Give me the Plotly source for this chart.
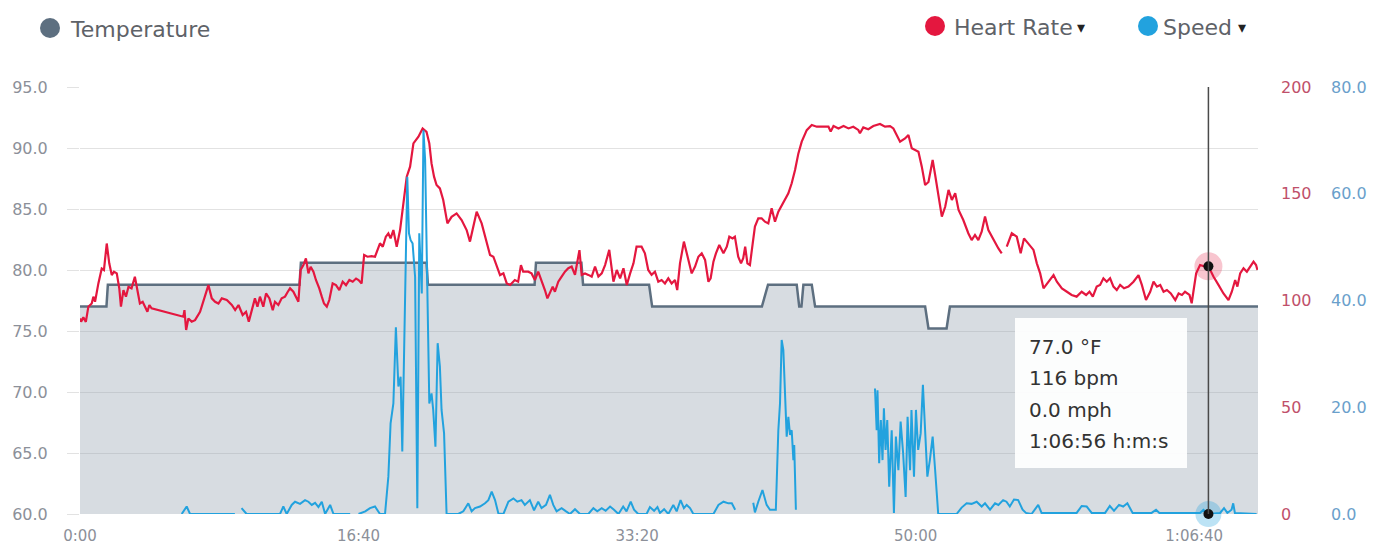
import plotly.graph_objects as go

# ---------------- data ----------------
tick_seconds = [0, 1000, 2000, 3000, 4000]
tick_labels = ["0:00", "16:40", "33:20", "50:00", "1:06:40"]
x_end = 4229

temp_t = [0, 95, 100, 788, 793, 1244, 1249, 1632, 1637, 1800, 1806, 2043, 2054, 2448, 2470,
          2573, 2582, 2590, 2597, 2627, 2639, 3034, 3046, 3111, 3123, 4229]
temp_v = [77.0, 77.0, 78.8, 78.8, 80.6, 80.6, 78.8, 78.8, 80.6, 80.6, 78.8, 78.8, 77.0, 77.0, 78.8,
          78.8, 77.0, 77.0, 78.8, 78.8, 77.0, 77.0, 75.2, 75.2, 77.0, 77.0]

hr1_t = [0, 4, 12, 21, 30, 42, 48, 54, 66, 78, 86, 96, 105, 114, 122, 132, 141, 147, 156, 165,
         174, 185, 197, 206, 215, 225, 233, 242, 249, 257, 371, 375, 381, 389, 401, 413, 431, 445, 461, 473,
         485, 497, 509, 527, 545, 557, 569, 584, 596, 606, 616, 628, 637, 646, 658, 668, 680, 692, 700, 712,
         724, 736, 746, 754, 766, 776, 784, 792, 802, 811, 820, 828, 838, 847, 859, 868, 876, 886, 895, 907,
         919, 931, 943, 955, 967, 979, 991, 1000, 1011, 1020, 1032, 1047, 1059, 1077, 1087, 1098, 1107, 1115, 1125, 1137,
         1149, 1161, 1173, 1185, 1197, 1215, 1230, 1244, 1254, 1262, 1271, 1280, 1292, 1304, 1319, 1334, 1352, 1370, 1388, 1400,
         1424, 1442, 1460, 1472, 1484, 1496, 1508, 1520, 1532, 1544, 1561, 1573, 1583, 1591, 1609, 1621, 1633, 1645, 1657, 1669,
         1678, 1687, 1697, 1705, 1717, 1729, 1741, 1753, 1765, 1777, 1793, 1801, 1813, 1825, 1837, 1849, 1861, 1873, 1885, 1900,
         1915, 1927, 1939, 1951, 1963, 1975, 1987, 1998, 2016, 2028, 2040, 2052, 2064, 2076, 2088, 2100, 2112, 2124, 2136, 2144,
         2154, 2168, 2184, 2196, 2208, 2220, 2232, 2244, 2256, 2264, 2274, 2283, 2295, 2310, 2322, 2331, 2343, 2351, 2363, 2373,
         2381, 2388, 2396, 2405, 2415, 2423, 2435, 2447, 2459, 2471, 2483, 2495, 2507, 2519, 2531, 2543, 2555, 2567, 2579, 2591,
         2609, 2627, 2645, 2669, 2687, 2695, 2705, 2723, 2741, 2759, 2776, 2794, 2800, 2812, 2830, 2848, 2872, 2890, 2908, 2920,
         2932, 2944, 2962, 2974, 2986, 2998, 3010, 3022, 3034, 3046, 3061, 3070, 3078, 3094, 3106, 3118, 3130, 3142, 3154, 3171,
         3189, 3201, 3213, 3225, 3237, 3249, 3261, 3273, 3285, 3297, 3309]
hr1_v = [91.6, 90.1, 92.1, 90.0, 97.1, 98.6, 101.8, 99.4, 108.0, 115.0, 114.3, 126.7, 117.4, 111.9, 113.5, 112.7, 105.7, 97.1, 104.9, 101.8,
         106.4, 105.7, 111.1, 104.9, 98.6, 99.4, 97.1, 94.7, 97.9, 96.3, 92.4, 95.5, 86.2, 91.6, 90.1, 90.8, 94.7, 100.2, 107.2, 101.0,
         99.4, 98.6, 101.0, 100.2, 97.9, 95.5, 97.9, 93.2, 94.7, 90.1, 95.5, 101.0, 97.1, 101.8, 97.1, 103.3, 101.0, 95.5, 99.4, 97.9,
         101.0, 101.8, 104.1, 105.7, 104.1, 101.8, 99.4, 114.3, 116.6, 119.7, 112.7, 115.8, 113.5, 109.6, 105.7, 101.8, 98.6, 97.1, 100.2, 108.0,
         107.2, 104.9, 108.8, 107.2, 109.6, 108.8, 110.3, 109.6, 108.0, 121.3, 120.5, 120.8, 120.5, 126.8, 125.2, 129.9, 131.4, 129.1, 133.0, 125.2,
         133.0, 145.5, 158.0, 162.7, 173.6, 176.7, 180.6, 179.0, 173.6, 164.2, 158.0, 154.1, 152.5, 147.1, 136.1, 139.2, 140.8, 137.7, 133.0, 127.6,
         141.6, 136.1, 126.8, 121.3, 120.5, 115.8, 111.9, 112.7, 108.0, 107.3, 109.6, 108.8, 116.6, 113.5, 113.5, 112.7, 109.6, 113.5, 109.6, 104.9,
         101.0, 103.4, 106.5, 104.1, 108.8, 111.2, 113.5, 115.1, 115.9, 112.0, 123.6, 112.0, 112.7, 112.0, 111.2, 115.9, 111.2, 112.7, 116.6, 123.7,
         108.8, 114.3, 110.4, 115.1, 107.3, 112.7, 117.4, 125.2, 125.2, 122.1, 114.3, 112.0, 113.5, 108.8, 109.6, 108.0, 110.4, 108.0, 109.6, 104.9,
         117.4, 127.6, 119.8, 112.7, 115.9, 120.5, 122.1, 119.0, 108.8, 110.4, 118.2, 122.1, 126.0, 122.1, 125.2, 129.9, 129.1, 129.9, 120.5, 117.4,
         119.8, 125.2, 117.4, 116.6, 126.8, 134.6, 138.5, 138.5, 136.9, 136.1, 143.2, 136.9, 141.6, 144.7, 147.1, 150.2, 154.9, 161.1, 168.9, 174.4,
         179.8, 182.2, 181.4, 181.4, 181.4, 179.1, 181.7, 180.6, 181.7, 180.6, 181.4, 179.9, 178.3, 181.1, 180.2, 181.7, 182.7, 181.4, 181.7, 180.6,
         177.5, 174.4, 175.9, 177.5, 171.3, 170.5, 169.7, 162.7, 154.1, 155.5, 165.8, 158.8, 152.0, 139.3, 143.9, 151.8, 147.1, 150.2, 142.4, 137.7,
         131.5, 128.3, 130.7, 128.3, 132.2, 139.3, 133.0, 129.9, 126.8, 124.4, 122.1]

hr2_t = [3327, 3345, 3363, 3377, 3389, 3405, 3423, 3435, 3447, 3459, 3477, 3495, 3507, 3525, 3543, 3560, 3578, 3596, 3612, 3624,
         3636, 3650, 3662, 3674, 3686, 3698, 3710, 3722, 3734, 3748, 3764, 3782, 3800, 3812, 3827, 3842, 3854, 3866, 3878, 3890,
         3902, 3916, 3932, 3944, 3956, 3967, 3983, 3991, 3997, 4007, 4021, 4039, 4051, 4069, 4087, 4105, 4123, 4135, 4147, 4155,
         4165, 4177, 4189, 4201, 4213, 4222, 4227]
hr2_v = [125.2, 131.5, 129.9, 122.1, 129.1, 126.8, 123.7, 117.4, 112.7, 105.7, 108.8, 111.9, 108.8, 105.7, 104.1, 102.6, 101.8, 104.1, 102.6, 104.1,
         101.8, 106.5, 107.3, 110.4, 108.8, 110.4, 106.5, 104.9, 107.3, 105.7, 106.5, 108.8, 111.9, 107.3, 100.2, 104.1, 108.8, 106.5, 107.3, 104.1,
         104.9, 103.3, 100.2, 103.3, 102.6, 104.1, 102.6, 98.7, 104.1, 112.7, 116.6, 115.9, 116.0, 111.2, 107.3, 103.3, 100.2, 104.1, 109.6, 106.5,
         112.7, 115.1, 113.5, 115.9, 118.2, 116.6, 114.3]

sp1_t = [365, 383, 395, 556]
sp1_v = [0, 1.4, 0, 0]
sp2_t = [580, 589, 598, 718, 730, 742, 760, 772, 790, 808, 820, 832, 844, 856, 868, 880, 898, 910, 970]
sp2_v = [1.1, 0.6, 0, 0, 1.4, 0, 1.7, 2.3, 1.9, 2.6, 2.3, 1.7, 2.1, 1.3, 2.3, 0, 1.7, 0, 0]
sp3_t = [1000, 1024, 1041, 1059, 1077, 1095, 1107, 1115, 1125, 1134, 1143, 1151, 1157, 1163, 1169, 1175, 1181, 1187, 1194, 1203,
         1211, 1218, 1227, 1233, 1239, 1245, 1254, 1262, 1268, 1276, 1284, 1292, 1298, 1307, 1316, 1358, 1376, 1394, 1406, 1418,
         1436, 1454, 1466, 1478, 1490, 1502, 1520, 1538, 1556, 1570, 1585, 1597, 1615, 1630, 1645, 1657, 1673, 1687, 1699, 1711,
         1729, 1745, 1759, 1777, 1795, 1825, 1843, 1857, 1873, 1887, 1903, 1917, 1933, 1950, 1962, 1977, 1989, 2004, 2034, 2046,
         2061, 2073, 2082, 2097, 2112, 2130, 2142, 2156, 2168, 2178, 2190, 2202, 2274, 2292, 2310, 2328, 2340, 2352]
sp3_v = [0, 0.5, 1.1, 1.4, 0, 0, 7, 17, 20.7, 35, 23.9, 25.7, 11.7, 28.8, 43.8, 63.2, 52.6, 51.3, 50.7, 44.4,
         1.1, 52.6, 41.3, 71.9, 66.3, 45.7, 20.7, 22.6, 19.5, 12.6, 32, 27.6, 19.5, 15.1, 0, 0, 0.5, 2, 0.5, 1.1,
         1.4, 2, 2.6, 4.2, 2.6, 0.1, 0, 2.3, 2.9, 2.3, 2.6, 1.7, 2.6, 0.7, 2.3, 1.1, 1.7, 3.6, 1.7, 0.5,
         1.1, 0.5, 0, 0.9, 0, 0, 1.1, 0.5, 1.1, 0.6, 1.4, 0.8, 0, 1.4, 0.5, 2.3, 0.8, 0, 0, 1.3,
         0.6, 1.3, 0.2, 0.9, 0, 1.7, 0.5, 2.6, 1.1, 1.7, 1.1, 0, 0, 1.7, 2.3, 2, 2, 0.8]
sp4_t = [2417, 2423, 2435, 2450, 2465, 2477, 2498, 2507, 2513, 2519, 2525, 2531, 2537, 2543, 2549, 2555, 2561, 2564, 2570]
sp4_v = [2.1, 0.3, 2.3, 4.5, 1.7, 0.8, 0.8, 15.7, 20.7, 32.6, 30.7, 20.7, 14.5, 18.2, 14.8, 15.7, 10.1, 12.9, 0.8]
sp5_t = [2854, 2860, 2863, 2869, 2875, 2881, 2886, 2892, 2898, 2905, 2914, 2922, 2929, 2938, 2946, 2955, 2964, 2971, 2980, 2985,
         2994, 3001, 3009, 3018, 3026, 3033, 3042, 3051, 3061, 3069, 3081, 3147, 3165, 3183, 3201, 3219, 3237, 3249, 3267, 3285,
         3297, 3314, 3326, 3338, 3353, 3368, 3384, 3396, 3416, 3440, 3452, 3578, 3596, 3614, 3632, 3680, 3697, 3712, 3730, 3745,
         3760, 3779, 3847, 3863, 3875, 4021, 4033, 4051, 4093, 4107, 4119, 4134, 4140, 4146, 4224]
sp5_v = [23.5, 15.7, 23.2, 9.5, 17.6, 10.1, 19.8, 12, 17.6, 5.1, 15.7, 0.2, 14.5, 8.2, 17.3, 11.4, 3.2, 18.2, 8.2, 19.5,
         7, 19.5, 12, 15.1, 24.2, 15.7, 7, 10.1, 14.5, 8.9, 0, 0, 1.2, 2, 1.9, 2.3, 1.4, 2, 0.8, 2,
         1.7, 2.6, 2.3, 1.4, 2.7, 2.6, 0.8, 0.2, 0, 1.7, 0.2, 0.2, 1.5, 1.4, 0.2, 0.2, 1.5, 0.6, 1.7, 1.4,
         2, 0.2, 0.2, 0.8, 0.2, 0.2, 0.8, 0, 0.2, 1.1, 0.2, 0.8, 2, 0.2, 0]

cursor_t = 4051
cursor_temp = 77.0
cursor_hr = 116
cursor_speed = 0.0
tooltip_lines = ["77.0 °F", "116 bpm", "0.0 mph", "1:06:56 h:m:s"]

temp_ticks = [60, 65, 70, 75, 80, 85, 90, 95]
hr_ticks = [0, 50, 100, 150, 200]
speed_ticks = [0, 20, 40, 60, 80]

# ---------------- helpers ----------------
def join(segs):
    xs, ys = [], []
    for i, (t, v) in enumerate(segs):
        assert len(t) == len(v), (i, len(t), len(v))
        if i:
            xs.append(None); ys.append(None)
        xs += t; ys += v
    return xs, ys

hr_x, hr_y = join([(hr1_t, hr1_v), (hr2_t, hr2_v)])
sp_x, sp_y = join([(sp1_t, sp1_v), (sp2_t, sp2_v), (sp3_t, sp3_v), (sp4_t, sp4_v), (sp5_t, sp5_v)])
assert len(temp_t) == len(temp_v)

# the page body has an 8px margin, so the figure sits at (8, 8) on screen
OFF = 8
W, H = 1387 - OFF, 546 - OFF
S_LEFT, S_RIGHT, S_TOP, S_BOTTOM = 80, 1258, 87, 514   # plot area in screen px
ML, MT = S_LEFT - OFF, S_TOP - OFF
MR = 20
MB = H - (S_BOTTOM - OFF)
PW = W - ML - MR
PH = H - MT - MB

def px(x):   # screen x -> paper fraction
    return (x - S_LEFT) / PW

def py(y):   # screen y -> paper fraction
    return (S_BOTTOM - y) / PH

FONT = "DejaVu Sans"
TEMP_C = "#5d6f80"
HR_C = "#e4173f"
SP_C = "#22a2de"

fig = go.Figure()
fig.add_trace(go.Scatter(x=temp_t, y=temp_v, mode="lines", line=dict(color=TEMP_C, width=2.5),
                         fill="tozeroy", fillcolor="rgba(150,162,175,0.38)", yaxis="y"))
fig.add_trace(go.Scatter(x=hr_x, y=hr_y, mode="lines", line=dict(color=HR_C, width=2.2),
                         connectgaps=False, yaxis="y2"))
fig.add_trace(go.Scatter(x=[cursor_t], y=[cursor_hr], mode="markers",
                         marker=dict(size=28, color="rgba(228,23,63,0.25)"), yaxis="y2"))
fig.add_trace(go.Scatter(x=[cursor_t], y=[cursor_hr], mode="markers",
                         marker=dict(size=10, color="#111"), yaxis="y2"))
fig.add_trace(go.Scatter(x=sp_x, y=sp_y, mode="lines", line=dict(color=SP_C, width=2),
                         connectgaps=False, yaxis="y3"))
fig.add_trace(go.Scatter(x=[cursor_t], y=[cursor_speed], mode="markers",
                         marker=dict(size=26, color="rgba(34,162,222,0.3)"), yaxis="y3", cliponaxis=False))
fig.add_trace(go.Scatter(x=[cursor_t], y=[cursor_speed], mode="markers",
                         marker=dict(size=10, color="#111"), yaxis="y3", cliponaxis=False))

shapes = []
shapes.append(dict(type="line", xref="x", yref="paper", x0=cursor_t, x1=cursor_t, y0=0, y1=1,
                   line=dict(color="#4a4a4a", width=1.5), layer="above"))
shapes.append(dict(type="rect", xref="paper", yref="paper", x0=px(1015), x1=px(1187), y0=py(468), y1=py(318),
                   fillcolor="rgba(255,255,255,0.93)", line=dict(width=0), layer="above"))
for cx, cy, col in [(50, 28, TEMP_C), (935, 26, HR_C), (1148, 26, SP_C)]:
    shapes.append(dict(type="circle", xref="paper", yref="paper", xsizemode="pixel", ysizemode="pixel",
                       xanchor=px(cx), yanchor=py(cy), x0=-10, x1=10, y0=-10, y1=10,
                       fillcolor=col, line=dict(width=0)))

annotations = []
for txt, x, y in [("Temperature", 68, 29), ("Heart Rate", 952, 27), ("Speed", 1161, 27)]:
    annotations.append(dict(text=txt, xref="paper", yref="paper", x=px(x), y=py(y), xanchor="left",
                            yanchor="middle", showarrow=False, font=dict(family=FONT, size=22, color="#5e6268")))
for x in [1081, 1242]:
    annotations.append(dict(text="▾", xref="paper", yref="paper", x=px(x), y=py(27), xanchor="center",
                            yanchor="middle", showarrow=False, font=dict(family=FONT, size=16, color="#222")))
for i, line in enumerate(tooltip_lines):
    annotations.append(dict(text=line, xref="paper", yref="paper", x=px(1027), y=py(347 + i * 31.3),
                            xanchor="left", yanchor="middle", showarrow=False,
                            font=dict(family=FONT, size=20, color="#333")))

fig.update_layout(
    width=W, height=H,
    margin=dict(l=ML, r=MR, t=MT, b=MB, autoexpand=False),
    paper_bgcolor="white", plot_bgcolor="white",
    showlegend=False, hovermode=False,
    font=dict(family=FONT),
    xaxis=dict(domain=[0, px(S_RIGHT)], range=[0, x_end], tickvals=tick_seconds, ticktext=tick_labels,
               showgrid=False, zeroline=False, showline=False, ticks="", automargin=False,
               tickfont=dict(family=FONT, size=15, color="#8c9099"), ticklabelstandoff=11),
    yaxis=dict(range=[60, 95], tickvals=temp_ticks, tickformat=".1f", showgrid=True, gridcolor="#e2e2e2",
               gridwidth=1, zeroline=False, showline=False, ticks="outside", ticklen=12, tickcolor="#e2e2e2",
               automargin=False,
               tickfont=dict(family=FONT, size=16, color="#8c9099"), ticklabelstandoff=16),
    yaxis2=dict(range=[0, 200], tickvals=hr_ticks, overlaying="y", side="right", anchor="x",
                showgrid=False, zeroline=False, showline=False, ticks="", automargin=False,
                tickfont=dict(family=FONT, size=16, color="#c0506a"), ticklabelstandoff=22),
    yaxis3=dict(range=[0, 80], tickvals=speed_ticks, tickformat=".1f", overlaying="y", side="right",
                anchor="free", position=px(1308), showgrid=False, zeroline=False, showline=False, ticks="",
                automargin=False,
                tickfont=dict(family=FONT, size=16, color="#6a9fcb"), ticklabelstandoff=22),
    shapes=shapes, annotations=annotations,
)

fig.write_html("out.html")
